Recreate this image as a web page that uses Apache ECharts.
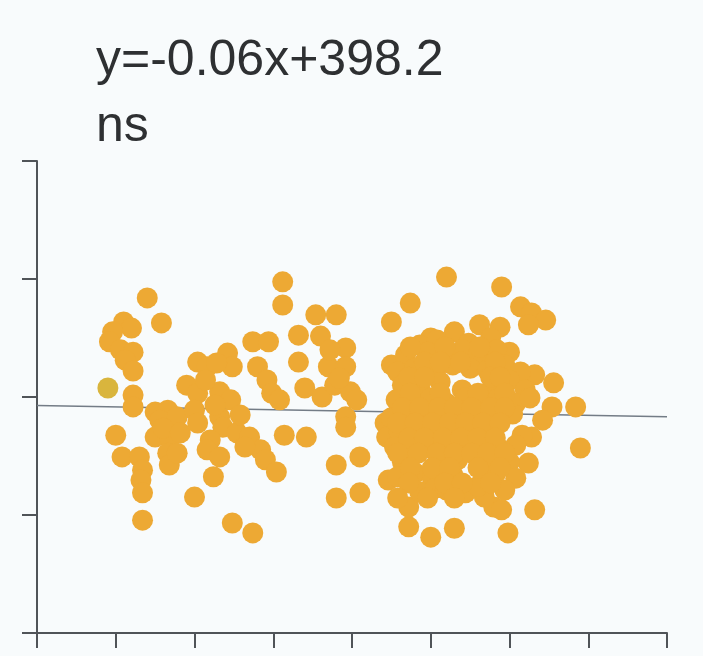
<!DOCTYPE html>
<html>
<head>
<meta charset="utf-8">
<script src="https://cdn.jsdelivr.net/npm/echarts@6/dist/echarts.min.js"></script>
<style>
  html, body { margin: 0; padding: 0; background: #f8fbfc; }
  #chart { width: 703px; height: 656px; }
</style>
</head>
<body>
<div id="chart"></div>
<script>
// Fitted trend: y = slope * x + intercept
const slope = -0.06;
const intercept = 398.2;
const equationLabel = 'y=-0.06x+398.2';
const significanceLabel = 'ns';

// Axis ranges (ticks only, no tick labels)
const xRange = [0, 40, 5];
const yRange = [350, 450, 25];

// Observations, grouped by x band
const groupA = [
  [7.0, 421.0], [7.9, 415.7], [5.5, 415.9], [6.0, 414.6], [4.8, 413.8], [4.6, 411.7],
  [5.3, 410.0], [6.1, 409.5], [5.6, 407.8], [6.1, 405.5], [6.1, 400.4], [6.1, 397.9],
  [5.0, 391.9], [5.4, 387.3], [6.5, 387.3], [6.7, 384.5], [6.6, 382.4], [6.7, 379.7],
  [6.7, 373.9], [7.5, 396.8], [8.3, 397.2], [7.8, 395.1], [8.9, 395.8], [7.5, 391.5],
  [8.4, 391.5], [8.3, 388.1], [8.4, 385.6], [8.0, 393.4], [9.1, 392.4], [8.9, 388.1]
];
const groupB = [
  [10.2, 407.4], [10.8, 406.4], [12.1, 409.3], [12.4, 406.4], [11.4, 407.2], [9.5, 402.5],
  [10.2, 400.8], [11.6, 401.1], [12.3, 399.4], [10.0, 397.2], [10.2, 394.5], [11.6, 395.8],
  [11.8, 393.6], [12.7, 392.4], [11.0, 390.9], [10.8, 388.8], [11.6, 387.3], [11.2, 383.1],
  [10.0, 378.8], [12.4, 373.3], [13.7, 371.2], [13.7, 411.7], [14.7, 411.7], [14.0, 406.4],
  [14.6, 403.6], [14.9, 400.8], [15.4, 399.4], [13.5, 391.5], [14.2, 388.8], [14.5, 386.7],
  [15.2, 384.1], [13.2, 389.4], [10.7, 403.6], [11.3, 398.3], [12.9, 396.2]
];
const groupC = [
  [15.6, 424.4], [15.6, 419.5], [17.7, 417.4], [19.0, 417.4], [16.6, 413.1], [18.0, 412.9],
  [19.6, 410.4], [16.6, 407.4], [18.5, 406.4], [19.6, 406.4], [17.0, 401.9], [18.1, 400.0],
  [18.9, 402.5], [19.9, 401.1], [20.3, 399.4], [19.6, 395.8], [19.6, 393.6], [15.7, 391.9],
  [17.1, 391.5], [19.0, 385.6], [20.5, 387.3], [19.0, 378.6], [20.5, 379.7], [19.2, 404.0],
  [18.6, 410.0]
];
const groupD = [
  [26.0, 425.4], [29.5, 423.3], [23.7, 419.9], [22.5, 415.9], [30.7, 419.1], [31.4, 417.8],
  [32.3, 416.3], [31.2, 415.3], [26.5, 413.8], [28.1, 415.3], [29.4, 414.8], [30.0, 409.5],
  [31.6, 404.7], [32.8, 403.0], [32.7, 397.9], [34.2, 397.9], [34.5, 389.2], [31.6, 376.1],
  [29.9, 371.2], [26.5, 372.2], [25.0, 370.3], [23.6, 372.5], [23.6, 376.7], [22.3, 382.4],
  [31.2, 386.0], [29.0, 376.7], [29.5, 376.1], [27.2, 379.7], [26.0, 380.3], [28.4, 378.8],
  [22.5, 406.8], [22.1, 394.5], [22.2, 391.5], [31.4, 391.5], [32.1, 395.1], [25.0, 412.5]
];
const groupDCore = [
  [24.3, 411.0], [25.4, 412.1], [27.4, 411.4], [28.8, 412.5],
  [23.4, 408.9], [24.8, 409.5], [26.1, 408.9], [27.0, 410.0], [28.0, 408.9], [29.2, 410.0],
  [22.9, 405.3], [24.0, 406.1], [25.3, 405.3], [26.4, 406.8], [27.5, 406.1], [28.6, 405.7],
  [29.7, 406.8], [30.7, 405.3],
  [23.2, 402.5], [24.3, 401.9], [25.6, 403.2], [27.0, 401.5], [28.9, 401.9], [30.0, 403.6],
  [31.0, 401.5],
  [22.8, 399.4], [23.8, 399.0], [25.0, 399.8], [26.0, 398.7], [27.2, 399.8], [28.3, 399.0],
  [29.3, 399.8], [30.4, 398.7], [31.3, 399.8],
  [22.5, 395.6], [23.6, 396.2], [24.6, 395.6], [25.7, 396.8], [26.9, 396.0], [27.9, 396.6],
  [29.0, 395.6], [30.2, 396.4],
  [23.0, 392.6], [24.1, 393.4], [25.3, 392.4], [26.4, 393.0], [27.5, 393.6], [28.6, 392.6],
  [30.8, 391.9],
  [22.7, 389.4], [23.8, 390.0], [25.0, 389.2], [26.1, 390.3], [27.2, 389.4], [28.3, 390.0],
  [29.3, 389.2], [30.4, 389.8],
  [23.2, 386.2], [25.6, 386.0], [26.7, 386.7], [28.9, 387.1], [30.0, 386.2],
  [22.9, 383.1], [24.0, 383.9], [25.1, 382.8], [26.4, 383.5], [29.1, 383.7], [30.4, 382.8],
  [24.3, 379.9], [25.3, 380.7], [28.0, 381.1], [29.7, 380.3]
];
const groupDInner = [
  [23.7, 410.6], [25.9, 410.6], [28.1, 410.6],
  [24.6, 407.4], [25.6, 407.4], [26.9, 407.4], [29.1, 407.4],
  [23.6, 404.2], [24.6, 404.2], [28.8, 404.2], [29.4, 404.2],
  [23.7, 400.8], [25.6, 400.8], [28.0, 400.8], [29.7, 400.8],
  [23.2, 397.7], [24.3, 397.7], [25.5, 397.7], [26.5, 397.7], [27.6, 397.7], [28.8, 397.7], [29.7, 397.7],
  [22.9, 394.5], [24.0, 394.5], [25.1, 394.5], [26.2, 394.5], [27.2, 394.5], [28.3, 394.5], [29.4, 394.5],
  [23.6, 391.3], [24.6, 391.3], [25.8, 391.3], [26.9, 391.3], [28.0, 391.3], [29.1, 391.3],
  [22.9, 388.1], [24.2, 388.1], [25.4, 388.1], [26.5, 388.1], [27.6, 388.1], [28.6, 388.1], [29.7, 388.1],
  [23.7, 385.0], [25.1, 385.0], [26.2, 385.0], [28.0, 385.0], [29.4, 385.0],
  [23.6, 381.8], [25.9, 381.8], [27.0, 381.8], [28.8, 381.8],
  [22.9, 378.6], [24.8, 378.6], [26.5, 378.6]
];
// Single observation drawn in a different tint
const flagged = [[4.5, 401.9]];

const allPoints = groupA.concat(groupB, groupC, groupD, groupDCore, groupDInner);
const trend = [
  [xRange[0], slope * xRange[0] + intercept],
  [xRange[1], slope * xRange[1] + intercept]
];

const axisColor = '#505458';
const axisCommon = {
  axisLine: { show: true, onZero: false, lineStyle: { color: axisColor, width: 2 } },
  axisTick: { show: true, length: 15, lineStyle: { color: axisColor, width: 2 } },
  axisLabel: { show: false },
  splitLine: { show: false }
};

const chart = echarts.init(document.getElementById('chart'), null, { renderer: 'canvas' });
chart.setOption({
  backgroundColor: '#f8fbfc',
  animation: false,
  title: [
    {
      text: equationLabel, left: 91, top: 31,
      textStyle: { fontFamily: 'Liberation Sans, Arial, sans-serif', fontSize: 50, fontWeight: 'normal', color: '#2e3032' }
    },
    {
      text: significanceLabel, left: 91, top: 97,
      textStyle: { fontFamily: 'Liberation Sans, Arial, sans-serif', fontSize: 50, fontWeight: 'normal', color: '#2e3032' }
    }
  ],
  grid: { left: 37, right: 36, top: 161, bottom: 23 },
  xAxis: Object.assign({ type: 'value', min: xRange[0], max: xRange[1], interval: xRange[2] }, axisCommon),
  yAxis: Object.assign({ type: 'value', min: yRange[0], max: yRange[1], interval: yRange[2] }, axisCommon),
  series: [
    {
      type: 'line', data: trend, symbol: 'none', z: 1,
      lineStyle: { color: '#737c86', width: 1.6 }
    },
    {
      type: 'scatter', data: allPoints, symbolSize: 21, z: 2,
      itemStyle: { color: '#eda934', opacity: 1 }
    },
    {
      type: 'scatter', data: flagged, symbolSize: 21, z: 3,
      itemStyle: { color: '#d9b53d', opacity: 1 }
    }
  ]
});
</script>
</body>
</html>
